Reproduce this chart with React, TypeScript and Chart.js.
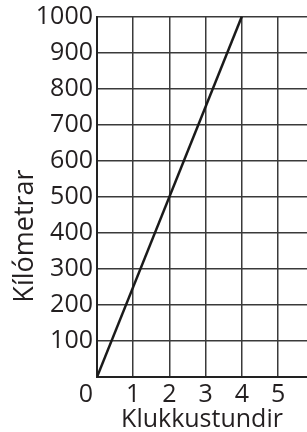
import React, { useEffect, useRef } from "react";
import { Chart, registerables } from "chart.js";

Chart.register(...registerables);

const hours: number[] = [0, 4];
const kilometres: number[] = [0, 1000];
const xTitle = "Klukkustundir";
const yTitle = "Kílómetrar";
const originLabel = "0";

const FONT = "'Open Sans', sans-serif";
const TEXT = "#231f20";
const GRID = "#3a3a3a";

export default function App() {
  const ref = useRef<HTMLCanvasElement | null>(null);
  useEffect(() => {
    if (!ref.current) return;
    const labelsPlugin = {
      id: "extraLabels",
      afterDraw(chart: any) {
        const ctx = chart.ctx;
        const xs = chart.scales.x;
        const ys = chart.scales.y;
        ctx.save();
        ctx.fillStyle = TEXT;
        ctx.font = `25px ${FONT}`;
        ctx.textAlign = "center";
        ctx.textBaseline = "middle";
        ctx.fillText(originLabel, xs.getPixelForValue(0) - 11, ys.getPixelForValue(0) + 18);
        ctx.font = `27px ${FONT}`;
        ctx.translate(25, 236);
        ctx.rotate(-Math.PI / 2);
        ctx.fillText(yTitle, 0, 0);
        ctx.restore();
      },
    };
    const chart = new Chart(ref.current, {
      type: "line",
      data: {
        datasets: [
          {
            data: hours.map((h, i) => ({ x: h, y: kilometres[i] })),
            borderColor: "#1a1a1a",
            borderWidth: 2.5,
            pointRadius: 0,
            fill: false,
          },
        ],
      },
      options: {
        animation: false,
        responsive: true,
        maintainAspectRatio: false,
        layout: { padding: { top: 14, left: 0, right: 0, bottom: 0 } },
        plugins: { legend: { display: false }, tooltip: { enabled: false } },
        scales: {
          x: {
            type: "linear",
            min: 0,
            max: 5.8,
            afterFit: (s: any) => {
              s.height = 55;
            },
            ticks: {
              stepSize: 1,
              includeBounds: false,
              padding: 5,
              color: TEXT,
              font: { family: FONT, size: 25, lineHeight: 1 },
              callback: (v: any) => (v === 0 ? "" : String(v)),
              maxRotation: 0,
            },
            grid: { color: GRID, lineWidth: 1.5, drawTicks: false },
            border: { display: true, color: "#222", width: 2 },
            title: {
              display: true,
              text: xTitle,
              color: TEXT,
              font: { family: FONT, size: 25, lineHeight: 1 },
              padding: 0,
            },
          },
          y: {
            type: "linear",
            min: 0,
            max: 1000,
            afterFit: (s: any) => {
              s.width = 97;
            },
            ticks: {
              stepSize: 100,
              padding: 4,
              color: TEXT,
              font: { family: FONT, size: 25, lineHeight: 1 },
              callback: (v: any) => (v === 0 ? "" : String(v)),
            },
            grid: { color: GRID, lineWidth: 1.5, drawTicks: false },
            border: { display: true, color: "#222", width: 2 },
          },
        },
      },
      plugins: [labelsPlugin],
    });
    return () => chart.destroy();
  }, []);
  return (
    <div style={{ position: "absolute", left: 0, top: 0, width: 307, height: 432, background: "#fff" }}>
      <canvas ref={ref} />
    </div>
  );
}
